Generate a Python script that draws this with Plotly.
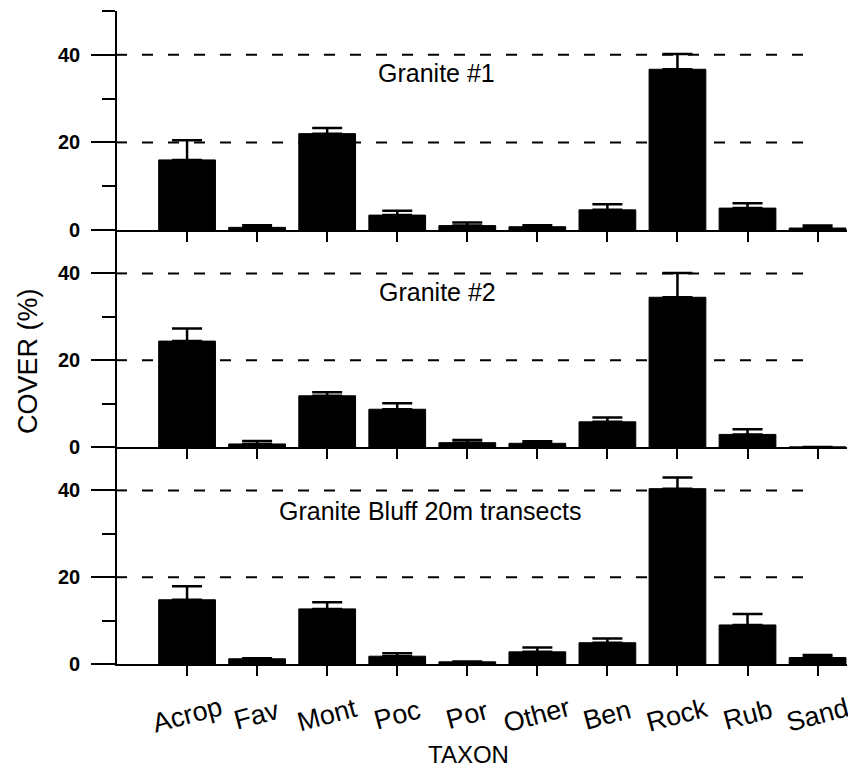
import plotly.graph_objects as go

# ---- data ----
taxa = ["Acrop", "Fav", "Mont", "Poc", "Por", "Other", "Ben", "Rock", "Rub", "Sand"]
panel_titles = ["Granite #1", "Granite #2", "Granite Bluff 20m transects"]

g1_cover = [16.0, 0.6, 22.0, 3.4, 1.0, 0.75, 4.6, 36.7, 5.0, 0.45]
g1_err = [4.5, 0.5, 1.3, 1.0, 0.7, 0.35, 1.3, 3.5, 1.1, 0.6]

g2_cover = [24.4, 0.7, 11.8, 8.7, 1.0, 0.85, 5.8, 34.5, 2.9, 0.0]
g2_err = [2.9, 0.7, 0.8, 1.4, 0.6, 0.45, 1.0, 5.6, 1.2, 0.0]

gb_cover = [14.8, 1.2, 12.7, 1.8, 0.5, 2.8, 4.9, 40.4, 9.0, 1.5]
gb_err = [3.1, 0.15, 1.5, 0.7, 0.1, 1.0, 1.0, 2.6, 2.5, 0.6]

y_ticks = [0, 20, 40]
y_minor = [10, 30, 50]
grid_vals = [20, 40]

OFF = 8        # page body margin in the browser
W, H = 856 - OFF, 772
FONT = "Liberation Sans, Arial, sans-serif"

def px_x(p):
    return (p - OFF) / W

def px_y(p):
    return 1 - (p - OFF) / H

# panel pixel extents (top, bottom) in picture pixels
panels_px = [(11, 230), (230, 447), (447, 664)]
x_left, x_right = 117, 847

fig = go.Figure()
series = [(g1_cover, g1_err), (g2_cover, g2_err), (gb_cover, gb_err)]

layout = dict(
    width=W, height=H,
    margin=dict(l=0, r=0, t=0, b=0),
    paper_bgcolor="white", plot_bgcolor="white",
    showlegend=False,
    font=dict(family=FONT, color="black"),
)

shapes = []
annotations = []

for i, (vals, errs) in enumerate(series):
    sfx = "" if i == 0 else str(i + 1)
    xa = "x" + sfx
    ya = "y" + sfx
    fig.add_trace(go.Bar(
        x=list(range(len(taxa))), y=vals,
        xaxis=xa, yaxis=ya,
        marker=dict(color="black", line=dict(color="black", width=1)),
        width=0.81,
        error_y=dict(type="data", symmetric=False, array=errs,
                     arrayminus=[0] * len(errs),
                     color="black", thickness=2.5, width=15),
    ))
    top, bot = panels_px[i]
    layout["xaxis" + sfx] = dict(
        domain=[px_x(x_left), px_x(x_right)], anchor=ya,
        range=[-1, 9.42], showline=True, linewidth=2, linecolor="black",
        ticks="outside", ticklen=10, tickwidth=2, tickcolor="black",
        tickvals=list(range(len(taxa))), showticklabels=False,
        showgrid=False, zeroline=False, fixedrange=True,
    )
    layout["yaxis" + sfx] = dict(
        domain=[px_y(bot), px_y(top)], anchor=xa,
        range=[0, 50], showline=True, linewidth=2, linecolor="black",
        ticks="outside", ticklen=24, tickwidth=2, tickcolor="black",
        tickvals=y_ticks, showticklabels=False,
        minor=dict(tickvals=y_minor, ticks="outside", ticklen=13,
                   tickwidth=2, tickcolor="black", showgrid=False),
        showgrid=False, zeroline=False, fixedrange=True,
    )
    for tv in y_ticks:
        annotations.append(dict(text=str(tv), xref="paper", yref=ya,
                                x=px_x(82), y=tv, showarrow=False,
                                xanchor="right", yanchor="middle",
                                font=dict(family=FONT, size=20, color="black",
                                          weight="bold")))
    for gv in grid_vals:
        shapes.append(dict(type="line", xref="paper", yref=ya,
                           x0=px_x(142), x1=px_x(810), y0=gv, y1=gv,
                           line=dict(color="black", width=2, dash="11px,15px"),
                           layer="below"))
        shapes.append(dict(type="line", xref="paper", yref=ya,
                           x0=px_x(x_left), x1=px_x(127), y0=gv, y1=gv,
                           line=dict(color="black", width=2), layer="above"))

title_pos = [(436, 73), (437, 292), (430, 511)]
for t, (cx, cy) in zip(panel_titles, title_pos):
    annotations.append(dict(text=t, xref="paper", yref="paper",
                            x=px_x(cx), y=px_y(cy), showarrow=False,
                            xanchor="center", yanchor="middle",
                            font=dict(family=FONT, size=25, color="black")))

# category labels, rotated, placed at category positions on the bottom axis
for k, name in enumerate(taxa):
    annotations.append(dict(text=name, xref="x3", yref="paper",
                            x=k, y=px_y(715), showarrow=False,
                            xanchor="center", yanchor="middle",
                            textangle=-15,
                            font=dict(family=FONT, size=27, color="black")))

annotations.append(dict(text="TAXON", xref="paper", yref="paper",
                        x=px_x(468), y=px_y(754), showarrow=False,
                        xanchor="center", yanchor="middle",
                        font=dict(family=FONT, size=24, color="black")))
annotations.append(dict(text="COVER (%)", xref="paper", yref="paper",
                        x=px_x(28), y=px_y(361), showarrow=False,
                        xanchor="center", yanchor="middle", textangle=-90,
                        font=dict(family=FONT, size=27, color="black")))

layout["shapes"] = shapes
layout["annotations"] = annotations
fig.update_layout(**layout)

fig.write_html("out.html")
